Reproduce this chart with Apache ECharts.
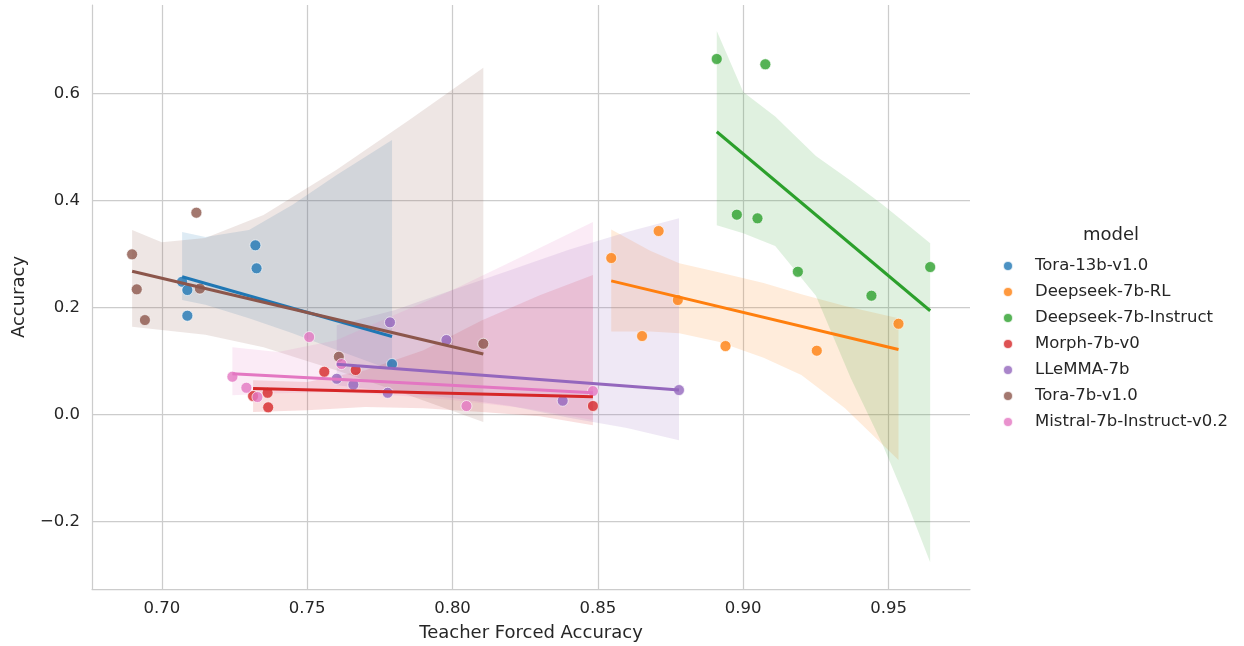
<!DOCTYPE html>
<html>
<head>
<meta charset="utf-8">
<script src="https://cdn.jsdelivr.net/npm/echarts@6/dist/echarts.min.js"></script>
<style>
  html, body { margin: 0; padding: 0; background: #ffffff; }
  #chart { width: 1244px; height: 646px; }
</style>
</head>
<body>
<div id="chart"></div>
<script>
// Accuracy vs. teacher-forced accuracy, one regression per model
const models = ['Tora-13b-v1.0', 'Deepseek-7b-RL', 'Deepseek-7b-Instruct', 'Morph-7b-v0',
                'LLeMMA-7b', 'Tora-7b-v1.0', 'Mistral-7b-Instruct-v0.2'];
const palette = ['#1f77b4', '#ff7f0e', '#2ca02c', '#d62728', '#9467bd', '#8c564b', '#e377c2'];

const xTicks = [0.70, 0.75, 0.80, 0.85, 0.90, 0.95];
const yTicks = [-0.2, 0.0, 0.2, 0.4, 0.6];

// observations: teacher forced accuracy (tf) and accuracy (acc)
const tora13bTf  = [0.7070, 0.7088, 0.7088, 0.7322, 0.7326, 0.7792];
const tora13bAcc = [0.2482, 0.2327, 0.1847, 0.3163, 0.2733, 0.0944];

const dsRlTf  = [0.8546, 0.8652, 0.8709, 0.8775, 0.8939, 0.9253, 0.9534];
const dsRlAcc = [0.2925, 0.1467, 0.3430, 0.2140, 0.1280, 0.1193, 0.1697];

const dsInstTf  = [0.8909, 0.9076, 0.8978, 0.9049, 0.9188, 0.9441, 0.9643];
const dsInstAcc = [0.6645, 0.6546, 0.3735, 0.3667, 0.2669, 0.2221, 0.2757];

const morphTf  = [0.7314, 0.7364, 0.7366, 0.7559, 0.7667, 0.8483];
const morphAcc = [0.0346, 0.0407, 0.0135, 0.0800, 0.0832, 0.0160];

const llemmaTf  = [0.7602, 0.7659, 0.7777, 0.7785, 0.7979, 0.8379, 0.8779];
const llemmaAcc = [0.0669, 0.0557, 0.0407, 0.1723, 0.1393, 0.0258, 0.0458];

const tora7bTf  = [0.6898, 0.6914, 0.6942, 0.7119, 0.7131, 0.7609, 0.8106];
const tora7bAcc = [0.2994, 0.2340, 0.1766, 0.3772, 0.2355, 0.1080, 0.1323];

const mistralTf  = [0.7243, 0.7291, 0.7329, 0.7507, 0.7618, 0.8048, 0.8483];
const mistralAcc = [0.0707, 0.0501, 0.0327, 0.1449, 0.0944, 0.0159, 0.0439];

// 95% confidence bands of each fit: x positions with lower / upper bounds
const tora13bBandX  = [0.7070, 0.715, 0.730, 0.745, 0.760, 0.7792];
const tora13bBandLo = [0.214, 0.205, 0.180, 0.152, 0.121, 0.083];
const tora13bBandHi = [0.341, 0.332, 0.345, 0.392, 0.447, 0.513];

const dsRlBandX  = [0.8546, 0.868, 0.878, 0.8915, 0.907, 0.920, 0.935, 0.9534];
const dsRlBandLo = [0.155, 0.155, 0.152, 0.136, 0.106, 0.074, 0.012, -0.085];
const dsRlBandHi = [0.346, 0.306, 0.283, 0.266, 0.246, 0.225, 0.203, 0.180];

const dsInstBandX  = [0.8909, 0.900, 0.911, 0.925, 0.937, 0.948, 0.956, 0.9643];
const dsInstBandLo = [0.354, 0.339, 0.315, 0.222, 0.068, -0.057, -0.160, -0.276];
const dsInstBandHi = [0.717, 0.603, 0.557, 0.483, 0.437, 0.392, 0.357, 0.320];

const morphBandX  = [0.7314, 0.750, 0.770, 0.790, 0.810, 0.830, 0.8483];
const morphBandLo = [0.005, 0.008, 0.014, 0.012, 0.005, -0.003, -0.020];
const morphBandHi = [0.064, 0.061, 0.083, 0.120, 0.176, 0.223, 0.261];

const llemmaBandX  = [0.7602, 0.780, 0.800, 0.820, 0.840, 0.860, 0.8779];
const llemmaBandLo = [0.055, 0.042, 0.031, 0.016, -0.006, -0.025, -0.048];
const llemmaBandHi = [0.167, 0.195, 0.233, 0.270, 0.308, 0.341, 0.367];

const tora7bBandX  = [0.6898, 0.700, 0.715, 0.735, 0.760, 0.785, 0.8106];
const tora7bBandLo = [0.164, 0.158, 0.149, 0.126, 0.083, 0.036, -0.014];
const tora7bBandHi = [0.345, 0.322, 0.330, 0.373, 0.457, 0.550, 0.648];

const mistralBandX  = [0.7243, 0.740, 0.760, 0.780, 0.800, 0.825, 0.8483];
const mistralBandLo = [0.036, 0.040, 0.042, 0.036, 0.027, 0.012, -0.010];
const mistralBandHi = [0.126, 0.117, 0.139, 0.186, 0.233, 0.298, 0.360];

const groups = [
  { tf: tora13bTf, acc: tora13bAcc, bx: tora13bBandX, lo: tora13bBandLo, hi: tora13bBandHi },
  { tf: dsRlTf, acc: dsRlAcc, bx: dsRlBandX, lo: dsRlBandLo, hi: dsRlBandHi },
  { tf: dsInstTf, acc: dsInstAcc, bx: dsInstBandX, lo: dsInstBandLo, hi: dsInstBandHi },
  { tf: morphTf, acc: morphAcc, bx: morphBandX, lo: morphBandLo, hi: morphBandHi },
  { tf: llemmaTf, acc: llemmaAcc, bx: llemmaBandX, lo: llemmaBandLo, hi: llemmaBandHi },
  { tf: tora7bTf, acc: tora7bAcc, bx: tora7bBandX, lo: tora7bBandLo, hi: tora7bBandHi },
  { tf: mistralTf, acc: mistralAcc, bx: mistralBandX, lo: mistralBandLo, hi: mistralBandHi }
];

const FONT = 'DejaVu Sans';
const INK = '#262626';
const GRID_COLOR = '#cccccc';

// ordinary least squares fit over the observed x range
function fitLine(xs, ys) {
  const n = xs.length;
  const mx = xs.reduce((a, b) => a + b, 0) / n;
  const my = ys.reduce((a, b) => a + b, 0) / n;
  let sxy = 0, sxx = 0;
  for (let i = 0; i < n; i++) {
    sxy += (xs[i] - mx) * (ys[i] - my);
    sxx += (xs[i] - mx) * (xs[i] - mx);
  }
  const slope = sxy / sxx;
  const x0 = Math.min(...xs), x1 = Math.max(...xs);
  return [[x0, my + slope * (x0 - mx)], [x1, my + slope * (x1 - mx)]];
}

const pointSeries = [];
const lineSeries = [];
groups.forEach((g, k) => {
  const color = palette[k];
  pointSeries.push({
    name: models[k],
    type: 'scatter',
    data: g.tf.map((x, i) => [x, g.acc[i]]),
    symbol: 'circle',
    symbolSize: 11,
    itemStyle: { color: color, opacity: 0.8, borderColor: '#ffffff', borderWidth: 0.8 },
    emphasis: { disabled: true },
    z: 2
  });
  pointSeries.push({
    name: models[k] + ' band',
    type: 'custom',
    silent: true,
    z: 2,
    data: g.bx.map((x, i) => [x, g.lo[i], g.hi[i]]),
    encode: { x: 0, y: [1, 2] },
    renderItem: (params, api) => {
      if (params.dataIndex !== 0) return null;
      const pts = [];
      for (let i = 0; i < g.bx.length; i++) pts.push(api.coord([g.bx[i], g.hi[i]]));
      for (let i = g.bx.length - 1; i >= 0; i--) pts.push(api.coord([g.bx[i], g.lo[i]]));
      return { type: 'polygon', shape: { points: pts }, style: { fill: color, opacity: 0.15 } };
    }
  });
  lineSeries.push({
    name: models[k] + ' fit',
    type: 'line',
    data: fitLine(g.tf, g.acc),
    symbol: 'none',
    silent: true,
    lineStyle: { color: color, width: 3 },
    z: 3
  });
});

const chart = echarts.init(document.getElementById('chart'), null, { renderer: 'canvas' });
chart.setOption({
  animation: false,
  backgroundColor: '#ffffff',
  textStyle: { fontFamily: FONT },
  grid: { left: 92, top: 5, right: 274, bottom: 57, containLabel: false, outerBoundsMode: 'none' },
  xAxis: {
    type: 'value',
    min: 0.676,
    max: 0.978,
    name: 'Teacher Forced Accuracy',
    nameLocation: 'middle',
    nameGap: 35,
    nameTextStyle: { fontSize: 18, color: INK, fontFamily: FONT },
    axisLine: { show: true, onZero: false, lineStyle: { color: GRID_COLOR, width: 1.25 } },
    axisTick: { show: false, customValues: xTicks },
    axisLabel: { customValues: xTicks, formatter: v => v.toFixed(2), fontSize: 16.5,
                 color: INK, margin: 11, fontFamily: FONT },
    splitLine: { show: true, lineStyle: { color: GRID_COLOR, width: 1.25 } }
  },
  yAxis: {
    type: 'value',
    min: -0.326,
    max: 0.7654,
    name: 'Accuracy',
    nameLocation: 'middle',
    nameGap: 64,
    nameTextStyle: { fontSize: 18, color: INK, fontFamily: FONT },
    axisLine: { show: true, onZero: false, lineStyle: { color: GRID_COLOR, width: 1.25 } },
    axisTick: { show: false, customValues: yTicks },
    axisLabel: { customValues: yTicks,
                 formatter: v => (v < -1e-9 ? '\u2212' : '') + Math.abs(v).toFixed(1),
                 fontSize: 16.5, color: INK, margin: 12, fontFamily: FONT },
    splitLine: { show: true, lineStyle: { color: GRID_COLOR, width: 1.25 } }
  },
  legend: {
    data: models,
    orient: 'vertical',
    left: 997,
    top: 252,
    icon: 'circle',
    itemWidth: 10,
    itemHeight: 10,
    itemGap: 8,
    selectedMode: false,
    textStyle: { fontSize: 16.5, lineHeight: 18, color: INK, fontFamily: FONT, padding: [0, 0, 0, 17] }
  },
  graphic: [{
    type: 'text',
    x: 1111,
    y: 235,
    style: { text: 'model', fontSize: 18, fill: INK, fontFamily: FONT, align: 'center', verticalAlign: 'middle' }
  }],
  series: pointSeries.concat(lineSeries)
});
</script>
</body>
</html>
